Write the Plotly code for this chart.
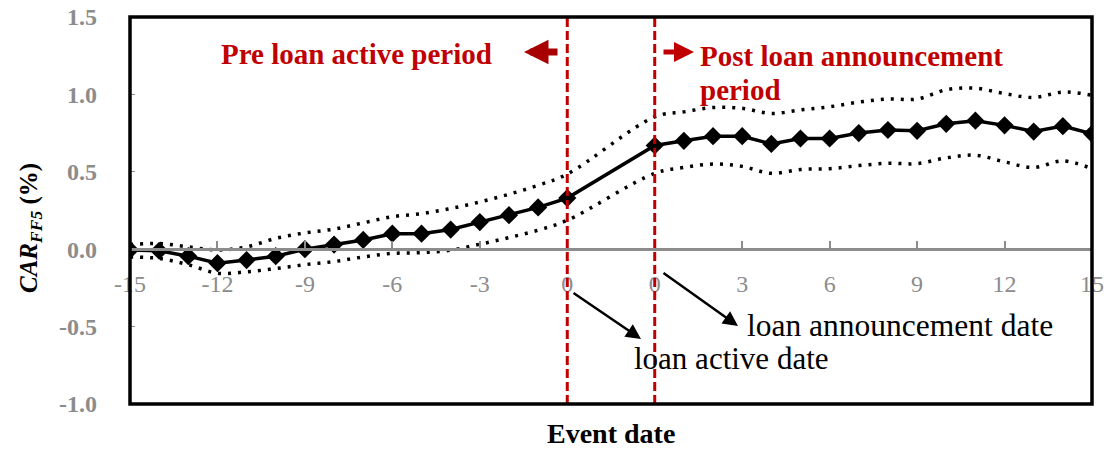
import plotly.graph_objects as go

# ---- data ----
event_pre = [-15, -14, -13, -12, -11, -10, -9, -8, -7, -6, -5, -4, -3, -2, -1, 0]
event_post = [0, 1, 2, 3, 4, 5, 6, 7, 8, 9, 10, 11, 12, 13, 14, 15]

car_pre = [-0.005, -0.01, -0.045, -0.09, -0.07, -0.045, 0.00, 0.03, 0.06, 0.10,
           0.10, 0.127, 0.175, 0.22, 0.27, 0.33]
upper_pre = [0.03, 0.037, 0.015, -0.005, 0.015, 0.07, 0.105, 0.13, 0.17, 0.21,
             0.23, 0.263, 0.305, 0.355, 0.413, 0.485]
lower_pre = [-0.05, -0.06, -0.10, -0.155, -0.146, -0.125, -0.10, -0.08, -0.05, -0.027,
             -0.022, -0.006, 0.032, 0.075, 0.123, 0.187]

car_post = [0.67, 0.70, 0.73, 0.73, 0.68, 0.715, 0.715, 0.75, 0.77, 0.765,
            0.81, 0.83, 0.80, 0.76, 0.795, 0.745]
upper_post = [0.855, 0.887, 0.915, 0.91, 0.877, 0.90, 0.92, 0.95, 0.97, 0.97,
              1.03, 1.04, 1.005, 0.98, 1.015, 0.995]
lower_post = [0.49, 0.528, 0.55, 0.535, 0.49, 0.515, 0.52, 0.54, 0.555, 0.553,
              0.59, 0.607, 0.564, 0.528, 0.57, 0.52]

tick_events = [-15, -12, -9, -6, -3, 0, 0, 3, 6, 9, 12, 15]
y_ticks = [-1.0, -0.5, 0.0, 0.5, 1.0, 1.5]

GAP = 2  # empty category slots between the two event windows

# category positions
x_pre = list(range(len(event_pre)))
x_post = [len(event_pre) + GAP + i for i in range(len(event_post))]
x_all = x_pre + x_post
tickvals = [x_pre[i] for i, e in enumerate(event_pre) if e % 3 == 0] + \
           [x_post[i] for i, e in enumerate(event_post) if e % 3 == 0]
ticktext = [str(e) for e in tick_events]
y_ticktext = ["<b>%.1f</b>" % v for v in y_ticks]

FONT = "Liberation Serif"
RED = "#C00000"
GRAY = "#8C8C8C"

fig = go.Figure()

fig.add_trace(go.Scatter(x=x_all, y=upper_pre + upper_post, mode="lines",
                         line=dict(color="black", width=3.5, dash="3px,7px", shape="spline"),
                         hoverinfo="skip", showlegend=False))
fig.add_trace(go.Scatter(x=x_all, y=lower_pre + lower_post, mode="lines",
                         line=dict(color="black", width=3.5, dash="3px,7px", shape="spline"),
                         hoverinfo="skip", showlegend=False))
fig.add_trace(go.Scatter(x=x_all, y=car_pre + car_post, mode="lines+markers",
                         line=dict(color="black", width=3.5),
                         marker=dict(symbol="diamond", size=14, color="black"),
                         showlegend=False))

shapes = []
for xv in (x_pre[-1], x_post[0]):
    shapes.append(dict(type="line", xref="x", yref="paper", x0=xv, x1=xv, y0=0, y1=1,
                       line=dict(color=RED, width=3, dash="9px,4px"), layer="above"))
shapes.append(dict(type="rect", xref="paper", yref="paper", x0=0, x1=1, y0=0, y1=1,
                   line=dict(color="black", width=3.5), layer="above"))

L, R, T, B = 130, 17, 17, 45
PW, PH = 1109 - L - R, 449 - T - B


def px(xp):
    return (xp - L) / PW


def py(yp):
    return (449 - B - yp) / PH


def note(xp, yp, text, size, color, xanchor="center", **kw):
    return dict(x=px(xp), y=py(yp), xref="paper", yref="paper", showarrow=False,
                xanchor=xanchor, yanchor="middle", text=text,
                font=dict(family=FONT, size=size, color=color), **kw)


def arrow(hx, hy, tx, ty, width, size, color):
    return dict(x=px(hx), y=py(hy), xref="paper", yref="paper", ax=tx - hx, ay=ty - hy,
                text="", showarrow=True, arrowhead=2, arrowsize=size, arrowwidth=width,
                arrowcolor=color)


annotations = [
    note(356, 54, "<b>Pre loan active period</b>", 29, RED),
    note(698, 56, "<b>Post loan announcement</b>", 29, RED, xanchor="left"),
    note(698, 90, "<b>period</b>", 29, RED, xanchor="left"),
    # red period arrows
    arrow(524, 52, 559, 52, 7, 0.7, "#A80000"),
    arrow(694, 52, 662, 52, 5, 0.8, RED),
    # black date arrows
    arrow(641, 339, 572, 292, 2.5, 1.2, "black"),
    arrow(738, 326, 662, 272, 2.5, 1.2, "black"),
    note(632, 358, "loan active date", 31, "black", xanchor="left"),
    note(745, 325, "loan announcement date", 31.5, "black", xanchor="left"),
    # axis titles
    note(611, 434, "<b>Event date</b>", 28, "black"),
    note(31, 228, "<b><i>CAR<sub>FF5</sub></i> (%)</b>", 25, "black", textangle=-90),
]

fig.update_layout(
    width=1109, height=449,
    margin=dict(l=L, r=R, t=T, b=B, autoexpand=False),
    paper_bgcolor="white", plot_bgcolor="white",
    shapes=shapes, annotations=annotations,
    xaxis=dict(range=[x_all[0], x_all[-1]], tickvals=tickvals, ticktext=ticktext,
               anchor="free", position=0.4, showline=True, linecolor=GRAY, linewidth=2.5,
               ticks="inside", ticklen=7, tickwidth=2, tickcolor=GRAY,
               showgrid=False, zeroline=False, ticklabelstandoff=12, automargin=False,
               tickfont=dict(family=FONT, size=24, color=GRAY)),
    yaxis=dict(range=[-1.0, 1.5], tickvals=y_ticks, ticktext=y_ticktext,
               showline=False, showgrid=False, zeroline=False,
               ticks="inside", ticklen=5, tickwidth=1, tickcolor=GRAY,
               ticklabelstandoff=32, automargin=False,
               tickfont=dict(family=FONT, size=24, color=GRAY)),
    font=dict(family=FONT),
)

fig.write_html("out.html", config={"displayModeBar": False},
               post_script="document.body.style.margin='0';document.body.style.overflow='hidden';")
